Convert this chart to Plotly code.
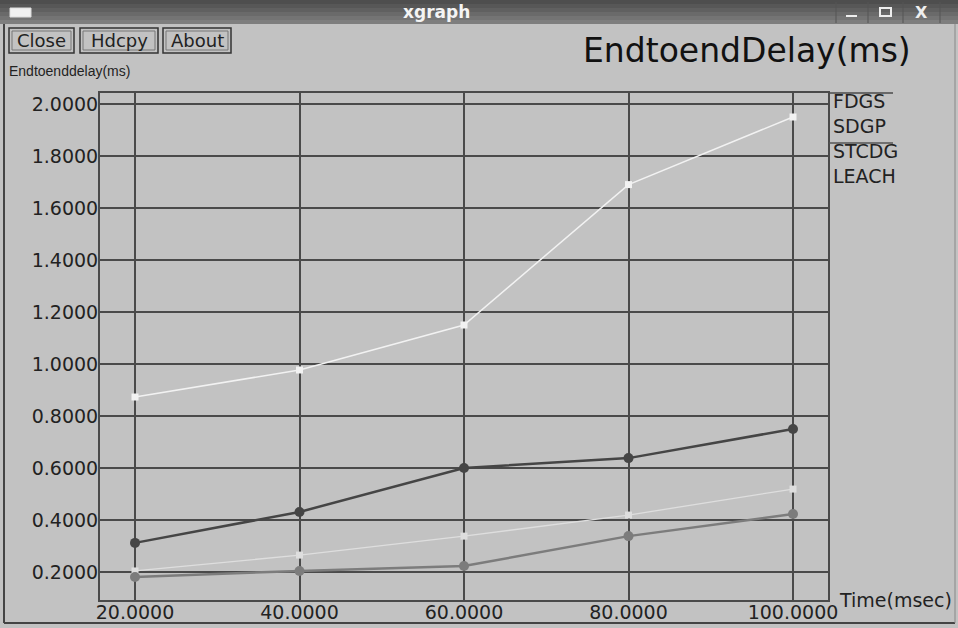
import plotly.graph_objects as go

# ---- data ----
time_ms = [20, 40, 60, 80, 100]
fdgs = [0.312, 0.431, 0.600, 0.638, 0.750]
sdgp = [0.873, 0.977, 1.150, 1.690, 1.950]
stcdg = [0.181, 0.204, 0.223, 0.338, 0.423]
leach = [0.204, 0.265, 0.338, 0.419, 0.519]
series_names = ["FDGS", "SDGP", "STCDG", "LEACH"]
y_ticks = [0.2, 0.4, 0.6, 0.8, 1.0, 1.2, 1.4, 1.6, 1.8, 2.0]
x_ticks = [20, 40, 60, 80, 100]

W, H = 958, 628
L, R, T, B = 100, 828, 93, 600
FONT = "DejaVu Sans, Liberation Sans, sans-serif"
BG = "#c2c2c2"
GRID = "#4a4a4a"
TXT = "#222222"

def px(x):
    return (x - L) / (R - L)

def py(y):
    return (B - y) / (B - T)

colors = {"FDGS": "#454545", "SDGP": "#f2f2f2", "STCDG": "#7c7c7c", "LEACH": "#dedede"}
legend_line = {"FDGS": "#4a4a4a", "SDGP": None, "STCDG": "#555555", "LEACH": None}
values = {"FDGS": fdgs, "SDGP": sdgp, "STCDG": stcdg, "LEACH": leach}
styles = {
    "FDGS": dict(width=2.5, symbol="circle", size=10),
    "SDGP": dict(width=1.5, symbol="square", size=7),
    "STCDG": dict(width=2.5, symbol="circle", size=10),
    "LEACH": dict(width=1.3, symbol="square", size=7),
}

fig = go.Figure()
for name in ["SDGP", "LEACH", "STCDG", "FDGS"]:
    st = styles[name]
    fig.add_trace(go.Scatter(
        x=time_ms, y=values[name], mode="lines+markers", name=name,
        line=dict(color=colors[name], width=st["width"]),
        marker=dict(color=colors[name], size=st["size"], symbol=st["symbol"]),
        showlegend=False, cliponaxis=False, hoverinfo="skip",
    ))

shapes = []
annotations = []

# title bar gradient
bar_cols = ["#4e4e4e", "#575757", "#606060", "#6a6a6a", "#747474", "#7e7e7e"]
n = len(bar_cols)
for i, c in enumerate(bar_cols):
    y0 = i * 24 / n
    y1 = (i + 1) * 24 / n
    shapes.append(dict(type="rect", xref="paper", yref="paper",
                       x0=px(0), x1=px(W), y0=py(y1), y1=py(y0),
                       fillcolor=c, line=dict(width=0), layer="below"))
# window icon
shapes.append(dict(type="rect", xref="paper", yref="paper",
                   x0=px(10), x1=px(31), y0=py(17), y1=py(8),
                   fillcolor="#f0f0f0", line=dict(color="#dddddd", width=1)))
# control separators
for sx in [836, 868, 903, 940]:
    shapes.append(dict(type="line", xref="paper", yref="paper",
                       x0=px(sx), x1=px(sx), y0=py(2), y1=py(23),
                       line=dict(color="#555555", width=1)))
# minimize
shapes.append(dict(type="line", xref="paper", yref="paper",
                   x0=px(846), x1=px(857), y0=py(16), y1=py(16),
                   line=dict(color="#eeeeee", width=2)))
# maximize
shapes.append(dict(type="rect", xref="paper", yref="paper",
                   x0=px(880), x1=px(891), y0=py(16), y1=py(8),
                   line=dict(color="#eeeeee", width=2)))
# window border
shapes.append(dict(type="line", xref="paper", yref="paper",
                   x0=px(4), x1=px(4), y0=py(24), y1=py(623),
                   line=dict(color="#444444", width=2)))
shapes.append(dict(type="line", xref="paper", yref="paper",
                   x0=px(4), x1=px(955), y0=py(623), y1=py(623),
                   line=dict(color="#444444", width=2)))
shapes.append(dict(type="line", xref="paper", yref="paper",
                   x0=px(955), x1=px(955), y0=py(24), y1=py(623),
                   line=dict(color="#888888", width=1)))

annotations.append(dict(text="<b>xgraph</b>", xref="paper", yref="paper",
                        x=px(436), y=py(12), showarrow=False,
                        font=dict(family=FONT, size=17, color="#f4f4f4"),
                        xanchor="center", yanchor="middle"))
annotations.append(dict(text="<b>X</b>", xref="paper", yref="paper",
                        x=px(921), y=py(12), showarrow=False,
                        font=dict(family=FONT, size=16, color="#eeeeee"),
                        xanchor="center", yanchor="middle"))

# buttons
for label, x0, x1 in [("Close", 9, 74), ("Hdcpy", 80, 158), ("About", 163, 231)]:
    shapes.append(dict(type="rect", xref="paper", yref="paper",
                       x0=px(x0), x1=px(x1), y0=py(53), y1=py(28),
                       line=dict(color="#333333", width=1.5)))
    shapes.append(dict(type="rect", xref="paper", yref="paper",
                       x0=px(x0 + 3), x1=px(x1 - 3), y0=py(50), y1=py(31),
                       line=dict(color="#777777", width=1)))
    annotations.append(dict(text=label, xref="paper", yref="paper",
                            x=px((x0 + x1) / 2), y=py(40.5), showarrow=False,
                            font=dict(family=FONT, size=18, color=TXT),
                            xanchor="center", yanchor="middle"))

annotations.append(dict(text="EndtoendDelay(ms)", xref="paper", yref="paper",
                        x=px(913), y=py(50), showarrow=False,
                        font=dict(family=FONT, size=33, color="#111111"),
                        xanchor="right", yanchor="middle"))
annotations.append(dict(text="Endtoenddelay(ms)", xref="paper", yref="paper",
                        x=px(7), y=py(71), showarrow=False,
                        font=dict(family="Liberation Sans, Arial, sans-serif", size=14, color=TXT),
                        xanchor="left", yanchor="middle"))
annotations.append(dict(text="Time(msec)", xref="paper", yref="paper",
                        x=px(837), y=py(600), showarrow=False,
                        font=dict(family=FONT, size=19, color=TXT),
                        xanchor="left", yanchor="middle"))

# legend
for i, name in enumerate(series_names):
    ly = 93 + i * 25
    if legend_line[name]:
        shapes.append(dict(type="line", xref="paper", yref="paper",
                           x0=px(829), x1=px(893), y0=py(ly), y1=py(ly),
                           line=dict(color=legend_line[name], width=1.5)))
    annotations.append(dict(text=name, xref="paper", yref="paper",
                            x=px(831), y=py(ly + 8), showarrow=False,
                            font=dict(family=FONT, size=19, color=TXT),
                            xanchor="left", yanchor="middle"))

x_lo = 20 - (135 - L) / 164.5 * 20
x_hi = 100 + (R - 793) / 164.5 * 20
y_lo = 2.0 - (B - 104) / 260
y_hi = 2.0 - (T - 104) / 260

fig.update_layout(
    width=W, height=H, autosize=False,
    margin=dict(l=L, r=W - R, t=T, b=H - B, pad=0, autoexpand=False),
    paper_bgcolor=BG, plot_bgcolor=BG,
    showlegend=False, hovermode=False,
    shapes=shapes, annotations=annotations,
    xaxis=dict(range=[x_lo, x_hi], tickvals=x_ticks, tickformat=".4f",
               showgrid=True, gridcolor=GRID, gridwidth=2,
               showline=True, linecolor=GRID, linewidth=2, mirror=True,
               zeroline=False, ticks="", automargin=False, ticklabelstandoff=-6,
               tickfont=dict(family=FONT, size=19, color=TXT)),
    yaxis=dict(range=[y_lo, y_hi], tickvals=y_ticks, tickformat=".4f",
               showgrid=True, gridcolor=GRID, gridwidth=2,
               showline=True, linecolor=GRID, linewidth=2, mirror=True,
               zeroline=False, ticks="", ticklabelstandoff=-4, automargin=False,
               tickfont=dict(family=FONT, size=19, color=TXT)),
)

post = (
    "var s=document.documentElement.style;s.margin='0';s.padding='0';s.overflow='hidden';"
    "var b=document.body.style;b.margin='0';b.padding='0';b.overflow='hidden';"
    "b.background='#c2c2c2';"
)
fig.write_html("out.html",
               config={"responsive": False, "displayModeBar": False},
               post_script=post)
